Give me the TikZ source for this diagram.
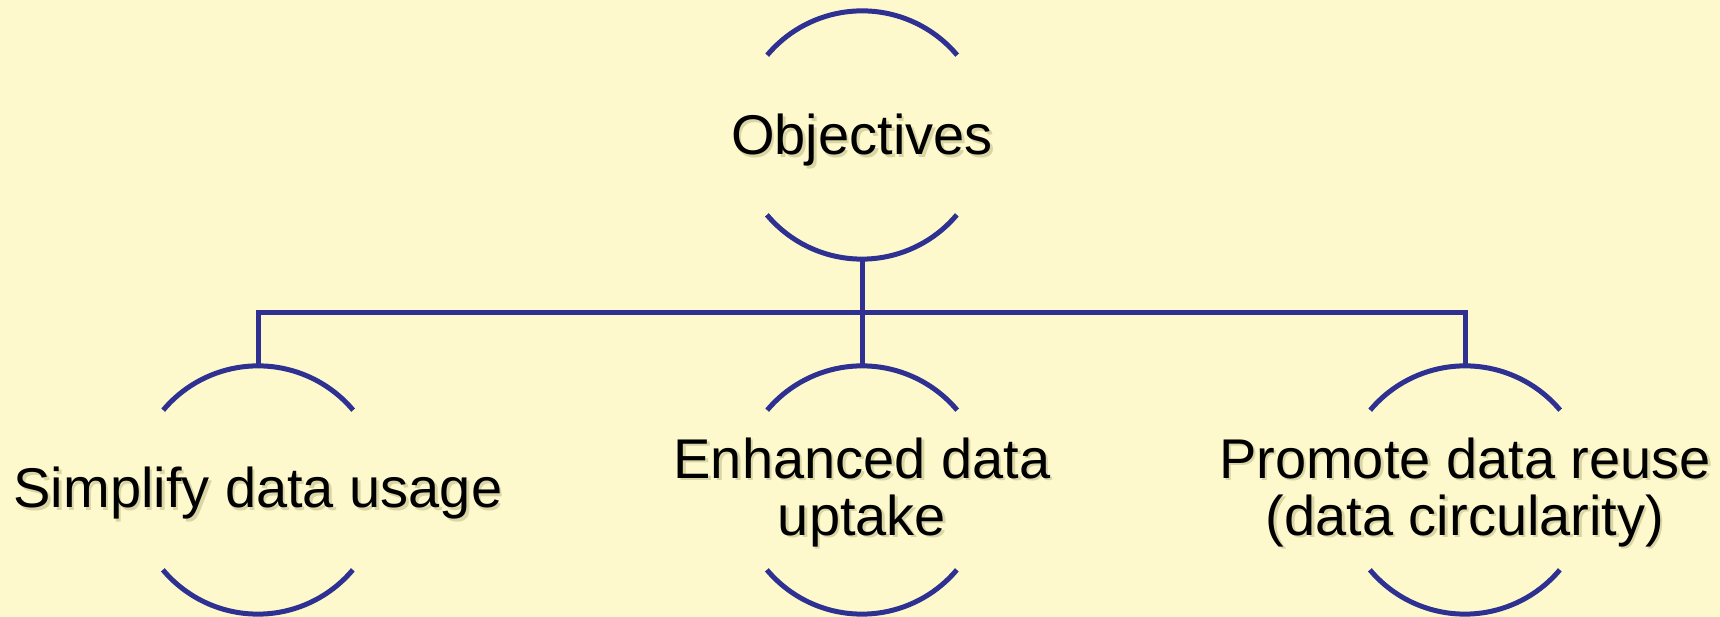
\documentclass[tikz,border=0pt]{standalone}
\usepackage{fontspec}
\setmainfont{Liberation Sans}
\usetikzlibrary{calc}
\definecolor{bgyellow}{RGB}{253,249,204}
\definecolor{lineblue}{RGB}{46,49,146}
\definecolor{shadowcol}{RGB}{190,184,134}
\tikzset{
  ring/.style={circle, minimum size=248pt, inner sep=0pt, draw=none},
  arcline/.style={draw=lineblue, line width=5pt},
  conn/.style={draw=lineblue, line width=5pt, line join=miter},
  lbl/.style={inner sep=0pt, align=center, text=black,
    font=\fontsize{56pt}{57pt}\selectfont},
  lblshadow/.style={lbl, text=shadowcol, opacity=0.55}
}
\begin{document}
\begin{tikzpicture}[x=1pt,y=1pt]
\useasboundingbox (0,0) rectangle (1720,617);
\fill[bgyellow] (0,0) rectangle (1720,617);
% circles (invisible shapes)
\node[ring] (o) at (862,482) {};
\node[ring] (a) at (258,127) {};
\node[ring] (b) at (862,127) {};
\node[ring] (c) at (1465,127) {};
% arcs
\foreach \n in {o,a,b,c}{
  \draw[arcline] (\n.40) arc[start angle=40, end angle=140, radius=124pt];
  \draw[arcline] (\n.220) arc[start angle=220, end angle=320, radius=124pt];
}
% connectors
\coordinate (bus) at (862,304);
\draw[conn] (o.south) -- (b.north);
\draw[conn] (a.north) -- (a.north |- bus) -- (c.north |- bus) -- (c.north);
% labels with shadow
\node[lblshadow, anchor=base] (os) at ($(862,462)+(2.5,-2.5)$) {Objectives};
\node[lbl, anchor=base] (ot) at (862,462) {Objectives};
\node[lblshadow, anchor=base] (as) at ($(258,109)+(2.5,-2.5)$) {Simplify data usage};
\node[lbl, anchor=base] (at) at (258,109) {Simplify data usage};
\node[lblshadow] (bs) at ($(862,124.5)+(2.5,-2.5)$) {Enhanced data\\uptake};
\node[lbl] (bt) at (862,124.5) {Enhanced data\\uptake};
\node[lblshadow] (cs) at ($(1465,124.5)+(2.5,-2.5)$) {Promote data reuse\\(data circularity)};
\node[lbl] (ct) at (1465,124.5) {Promote data reuse\\(data circularity)};
\end{tikzpicture}
\end{document}
